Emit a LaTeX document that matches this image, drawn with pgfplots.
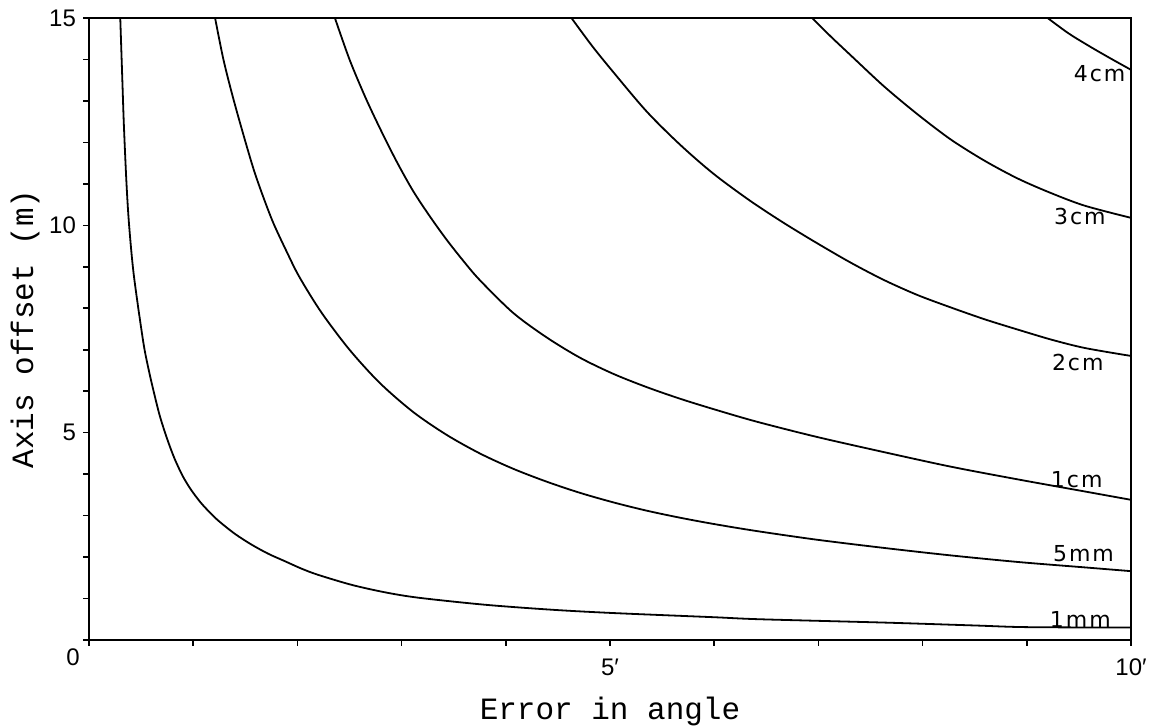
\documentclass[border=0pt]{standalone}
\usepackage{fontspec}
\setmainfont{Liberation Sans}
\newfontfamily\monofont{Liberation Mono}
\newfontfamily\curvefont[LetterSpace=9]{DejaVu Sans}
\usepackage{pgfplots}
\pgfplotsset{compat=1.18}
\pgfplotsset{curve/.style={black, line width=0.9pt, smooth, no markers}}
\begin{document}
\begin{tikzpicture}
\begin{axis}[
  scale only axis, width=521pt, height=311pt,
  xmin=0, xmax=10, ymin=0, ymax=15,
  clip=false,
  axis line style={line width=1.1pt},
  xtick={0,...,10}, xticklabels={,,,,,{5′},,,,,{10′}},
  ytick={0,...,15}, yticklabels={,,,,,5,,,,,10,,,,,15},
  xtick pos=bottom, ytick pos=left, tick align=outside,
  major tick length=3pt,
  tick style={line width=0.8pt, black},
  ticklabel style={font=\fontsize{12}{14}\selectfont},
  xticklabel style={yshift=-3pt},
  xlabel={Error in angle}, ylabel={Axis offset (m)},
  label style={font=\monofont\fontsize{15.5}{18}\selectfont},
  xlabel style={at={(axis description cs:0.5,-0.1286)}, anchor=base},
  ylabel style={at={(axis description cs:-0.0537,0.5)}, anchor=base},
]
% 1 mm
\addplot[curve] coordinates {(0.30,15) (0.32,13.5) (0.335,12.4) (0.36,11.0) (0.385,10.0)
  (0.43,8.8) (0.52,7.2) (0.57,6.55) (0.62,6.0) (0.68,5.4) (0.75,4.85) (0.82,4.38)
  (0.9,3.95) (0.98,3.62) (1.07,3.32) (1.15,3.1) (1.24,2.88) (1.4,2.56) (1.56,2.3)
  (1.72,2.08) (1.88,1.9) (2.04,1.72) (2.2,1.57) (2.52,1.33) (2.84,1.15) (3.16,1.02)
  (3.8,0.85) (4.44,0.73) (5.03,0.65) (5.99,0.55) (6.44,0.5) (7.63,0.42) (8.5,0.35)
  (9,0.31) (10,0.3)};
% 5 mm
\addplot[curve] coordinates {(1.21,15) (1.29,14.0) (1.38,13.1) (1.48,12.2) (1.58,11.35)
  (1.67,10.7) (1.77,10.05) (1.9,9.35) (2.02,8.75) (2.23,7.9) (2.5,7.0) (2.79,6.2)
  (3.11,5.5) (3.43,4.95) (3.75,4.5) (4.07,4.13) (4.39,3.82) (4.71,3.55) (5.03,3.32)
  (5.35,3.12) (5.67,2.95) (5.99,2.8) (6.4,2.63) (6.98,2.42) (7.63,2.22) (8.27,2.04)
  (8.92,1.88) (9.56,1.75) (10,1.66)};
% 1 cm
\addplot[curve] coordinates {(2.36,15) (2.5,14.0) (2.65,13.1) (2.79,12.35) (2.95,11.55)
  (3.11,10.83) (3.27,10.22) (3.43,9.66) (3.59,9.15) (3.75,8.68) (4.07,7.89) (4.39,7.30)
  (4.71,6.81) (5.03,6.42) (5.35,6.1) (5.67,5.82) (5.99,5.57) (6.4,5.27) (6.98,4.90)
  (7.63,4.53) (8.27,4.18) (8.92,3.87) (9.56,3.58) (10,3.38)};
% 2 cm
\addplot[curve] coordinates {(4.63,15) (4.83,14.32) (5.03,13.7) (5.35,12.75) (5.67,11.95)
  (5.99,11.25) (6.34,10.6) (6.66,10.07) (6.98,9.58) (7.31,9.1) (7.63,8.68) (7.95,8.32)
  (8.27,8.02) (8.6,7.73) (8.92,7.48) (9.24,7.24) (9.56,7.04) (10,6.85)};
% 3 cm
\addplot[curve] coordinates {(6.94,15) (7.12,14.55) (7.31,14.1) (7.63,13.35) (7.95,12.68)
  (8.27,12.07) (8.6,11.55) (8.92,11.12) (9.24,10.77) (9.56,10.47) (10,10.18)};
% 4 cm
\addplot[curve] coordinates {(9.20,15) (9.4,14.63) (9.6,14.32) (9.8,14.03) (10,13.75)};

% curve labels
\begin{scope}[every node/.style={anchor=east, inner sep=0pt,
    font=\curvefont\fontsize{11}{13}\selectfont}]
\node at (axis cs:9.95,13.67) {4cm};
\node at (axis cs:9.76,10.22) {3cm};
\node at (axis cs:9.74,6.69) {2cm};
\node at (axis cs:9.73,3.86) {1cm};
\node at (axis cs:9.84,2.08) {5mm};
\node at (axis cs:9.81,0.50) {1mm};
\end{scope}
% origin label
\node[inner sep=0pt, font=\fontsize{12}{14}\selectfont,
  xshift=-8pt, yshift=-8.5pt] at (axis cs:0,0) {0};
\end{axis}
\pgfresetboundingbox
\path[use as bounding box] (-44.5pt,-43pt) rectangle (534pt,320pt);
\end{tikzpicture}
\end{document}
